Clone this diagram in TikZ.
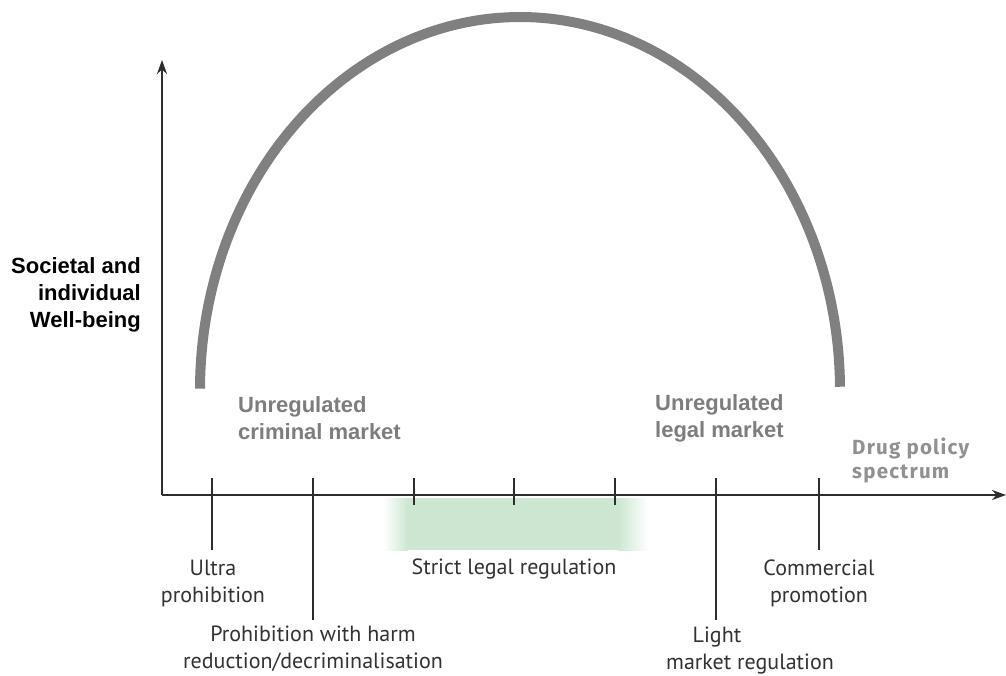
\documentclass[tikz,border=0pt]{standalone}
\usepackage{fontspec}
\setmainfont{Liberation Sans}
\newfontfamily\ticklabelfont{PT Sans}
\newfontfamily\spectrumfont{Fira Sans}[LetterSpace=6]
\usetikzlibrary{arrows.meta}

\definecolor{axiscol}{RGB}{45,45,45}
\definecolor{arccol}{RGB}{128,128,128}
\definecolor{marketcol}{RGB}{125,125,125}
\definecolor{speccol}{RGB}{145,145,145}
\definecolor{tickcol}{RGB}{50,50,50}
\definecolor{bandgreen}{RGB}{205,230,210}

\begin{document}
\begin{tikzpicture}[x=1pt,y=-1pt,
  axisline/.style={draw=axiscol, line width=2pt, -{Stealth[length=14pt,width=10pt]}},
  tickline/.style={draw=axiscol, line width=1.8pt},
  curve/.style={draw=arccol, line width=10pt},
  % multi-line nodes: the base anchor sits on the last line's baseline
  ylabel/.style={font=\bfseries\fontsize{22}{27}\selectfont, text=black,
    align=right, inner sep=0pt, anchor=base east},
  marketlabel/.style={font=\bfseries\fontsize{22}{26.5}\selectfont, text=marketcol,
    align=left, inner sep=0pt, anchor=base west},
  speclabel/.style={font=\spectrumfont\bfseries\fontsize{20.5}{24}\selectfont, text=speccol,
    align=left, inner sep=0pt, anchor=base west},
  ticklabel/.style={font=\ticklabelfont\fontsize{22}{26.5}\selectfont, text=tickcol,
    align=center, inner sep=0pt, anchor=base},
]
\useasboundingbox (0,0) rectangle (1006,675);

% axes
\coordinate (origin) at (162,495);
\coordinate (ytip) at (162,60);
\coordinate (xtip) at (1006,495);

% green band for strict legal regulation, soft at both ends
\shade[left color=white, right color=bandgreen] (383,498) rectangle (408,550);
\fill[bandgreen] (407,498) rectangle (619,550);
\shade[left color=bandgreen, right color=white] (618,498) rectangle (648,550);

\draw[axisline] (origin) -- (ytip);
\draw[axisline] (origin) -- (xtip);

% ticks on the policy axis: name/x/bottom end
\foreach \n/\x/\b in {ultra/212/550, harm/313/620, strictA/414/505, strictB/514/505,
                       strictC/615/505, light/716/620, comm/819/550} {
  \coordinate (\n-top) at (\x,478);
  \coordinate (\n-bot) at (\x,\b);
  \draw[tickline] (\n-top) -- (\n-bot);
}

% well-being curve
\draw[curve] plot[domain=0.5:179.8, samples=120, smooth]
  ({520+320*cos(\x)}, {390-373*sin(\x)});

% labels
\node[ylabel] (wellbeing) at (141,327) {Societal and\\individual\\Well-being};
\node[marketlabel] (criminal) at (238,439) {Unregulated\\criminal market};
\node[marketlabel] (legal) at (655,437) {Unregulated\\legal market};
\node[speclabel] (spectrum) at (852,478) {Drug policy\\spectrum};

\node[ticklabel] (ultraL) at (213,602) {Ultra\\prohibition};
\node[ticklabel] (harmL) at (313,668) {Prohibition with harm\\reduction/decriminalisation};
\node[ticklabel] (strictL) at (514,574) {Strict legal regulation};
\node[ticklabel] (commL) at (819,602) {Commercial\\promotion};
\node[ticklabel] (lightL) at (750,669) {Light\hspace*{66pt}\\market regulation};
\end{tikzpicture}
\end{document}
